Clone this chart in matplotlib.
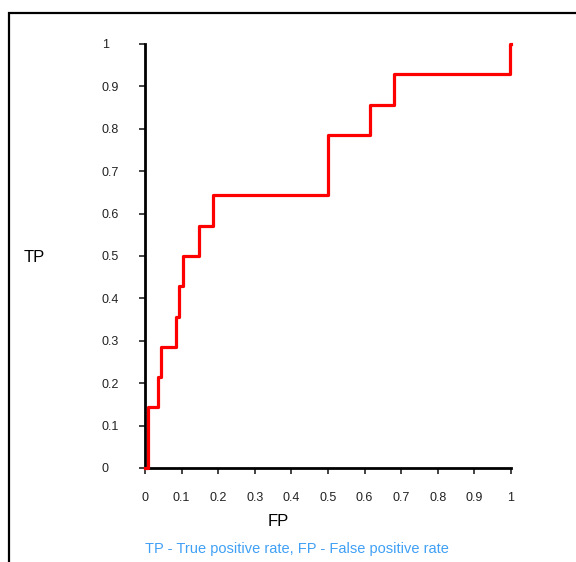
import matplotlib.pyplot as plt
from matplotlib.patches import Rectangle

plt.rcParams['font.family'] = ['Liberation Sans', 'DejaVu Sans']

# ROC curve corners (steps-pre)
fp = [0.0, 0.008, 0.036, 0.044, 0.085, 0.093, 0.104, 0.148, 0.186, 0.5, 0.615, 0.68, 0.997, 1.0]
tp = [0.0, 0.0, 0.143, 0.214, 0.286, 0.357, 0.429, 0.5, 0.571, 0.643, 0.786, 0.857, 0.929, 1.0]

ticks = [0, 0.1, 0.2, 0.3, 0.4, 0.5, 0.6, 0.7, 0.8, 0.9, 1]
tick_labels = ['0', '0.1', '0.2', '0.3', '0.4', '0.5', '0.6', '0.7', '0.8', '0.9', '1']

W, H = 576, 562
fig = plt.figure(figsize=(W / 100, H / 100), dpi=100)
ax = fig.add_axes([145 / W, 1 - 468 / H, 366 / W, 424 / H])

ax.plot(fp, tp, drawstyle='steps-pre', color='#ff0000', lw=2.3, clip_on=False, zorder=3)

ax.set_xlim(0, 1)
ax.set_ylim(0, 1)
for s in ['top', 'right']:
    ax.spines[s].set_visible(False)
for s in ['left', 'bottom']:
    ax.spines[s].set_linewidth(2)
    ax.spines[s].set_color('black')

ax.set_xticks(ticks)
ax.set_xticklabels(tick_labels)
ax.set_yticks(ticks)
ax.set_yticklabels(tick_labels)
ax.tick_params(axis='x', direction='out', length=4, width=1.2, pad=13, labelsize=9, colors='#222222')
ax.tick_params(axis='y', direction='out', length=4, width=1.2, pad=27, labelsize=9, colors='#222222')
for lab in ax.get_yticklabels():
    lab.set_horizontalalignment('left')

fig.text(34 / W, 1 - 258 / H, 'TP', fontsize=12, ha='center', va='center')
fig.text(278 / W, 1 - 521 / H, 'FP', fontsize=12, ha='center', va='center')
fig.text(145 / W, 1 - 549 / H, 'TP - True positive rate, FP - False positive rate',
         fontsize=10.5, color='#40a0f5', ha='left', va='center')

# outer frame running off the right and bottom edges
fig.patches.append(Rectangle((9 / W, -0.1), 1.2, 1.1 - 13 / H, transform=fig.transFigure,
                             fill=False, edgecolor='black', lw=1.6))

fig.savefig('out.png', dpi=100)
